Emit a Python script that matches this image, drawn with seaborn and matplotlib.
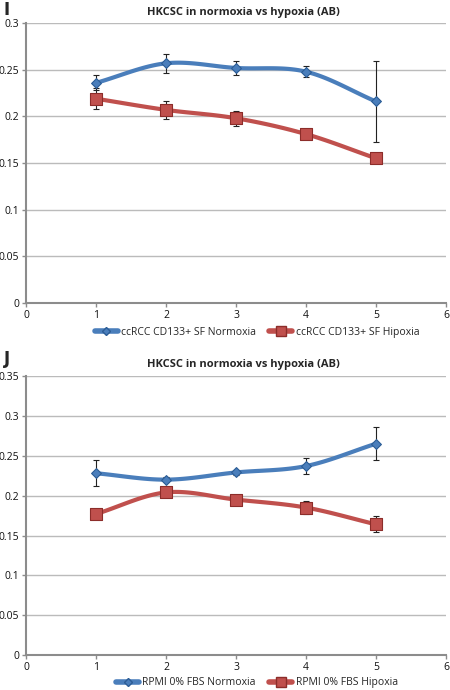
import numpy as np
import pandas as pd
import matplotlib
matplotlib.use("Agg")
import matplotlib.pyplot as plt
import seaborn as sns

sns.set_theme(style="white")
plt.rcParams['font.family'] = ['Open Sans', 'DejaVu Sans']

days = [1, 2, 3, 4, 5]
title = "HKCSC in normoxia vs hypoxia (AB)"

i_norm_label = "ccRCC CD133+ SF Normoxia"
i_hyp_label = "ccRCC CD133+ SF Hipoxia"
i_norm = [0.236, 0.257, 0.252, 0.248, 0.216]
i_norm_err = [0.008, 0.010, 0.008, 0.006, 0.044]
i_hyp = [0.219, 0.207, 0.198, 0.181, 0.155]
i_hyp_err = [0.011, 0.010, 0.008, 0.003, 0.002]

j_norm_label = "RPMI 0% FBS Normoxia"
j_hyp_label = "RPMI 0% FBS Hipoxia"
j_norm = [0.228, 0.220, 0.229, 0.237, 0.265]
j_norm_err = [0.016, 0.003, 0.003, 0.010, 0.021]
j_hyp = [0.177, 0.204, 0.195, 0.185, 0.164]
j_hyp_err = [0.002, 0.004, 0.005, 0.008, 0.010]

BLUE = "#4A7EBB"
BLUE_E = "#2C5D96"
RED = "#C0504D"
RED_E = "#8C2D2A"


def smooth(x, y, n=30):
    # Catmull-Rom spline through data points (Excel-like smoothed line)
    x = np.asarray(x, float); y = np.asarray(y, float)
    px = np.concatenate([[2 * x[0] - x[1]], x, [2 * x[-1] - x[-2]]])
    py = np.concatenate([[2 * y[0] - y[1]], y, [2 * y[-1] - y[-2]]])
    xs, ys = [], []
    t = np.linspace(0, 1, n)
    for i in range(1, len(px) - 2):
        p0, p1, p2, p3 = (np.array([px[k], py[k]]) for k in (i - 1, i, i + 1, i + 2))
        tt = t[:, None]
        pts = 0.5 * ((2 * p1) + (-p0 + p2) * tt + (2 * p0 - 5 * p1 + 4 * p2 - p3) * tt ** 2
                     + (-p0 + 3 * p1 - 3 * p2 + p3) * tt ** 3)
        xs.append(pts[:, 0]); ys.append(pts[:, 1])
    return np.concatenate(xs), np.concatenate(ys)


def panel(ax, norm, norm_err, hyp, hyp_err, lab_n, lab_h, ymax, legy):
    for vals, errs, col, ecol, mk, ms, lab in [
        (norm, norm_err, BLUE, BLUE_E, "D", 5, lab_n),
        (hyp, hyp_err, RED, RED_E, "s", 8, lab_h),
    ]:
        sx, sy = smooth(days, vals)
        ax.plot(sx, sy, color=col, lw=3, zorder=3, solid_capstyle="round")
        ax.errorbar(days, vals, yerr=errs, fmt="none", ecolor="#222222",
                    elinewidth=0.8, capsize=2, capthick=0.8, zorder=4)
        df = pd.DataFrame({"x": days, "y": vals})
        sns.scatterplot(data=df, x="x", y="y", ax=ax, marker=mk, s=ms ** 2,
                        color=col, edgecolor=ecol, linewidth=0.8, zorder=5,
                        legend=False)
        ax.plot([], [], color=col, lw=4, marker=mk, markersize=ms - 1,
                markerfacecolor=col, markeredgecolor=ecol, label=lab,
                solid_capstyle="round")
    ax.set_xlim(0, 6)
    ax.set_ylim(0, ymax)
    ax.set_xticks(range(0, 7))
    yt = np.round(np.arange(0, ymax + 0.001, 0.05), 2)
    ax.set_yticks(yt)
    ax.set_yticklabels([("%g" % v) for v in yt])
    ax.set_xlabel(""); ax.set_ylabel("")
    ax.yaxis.grid(True, color="#BBBBBB", lw=1)
    ax.set_axisbelow(True)
    for s in ["top", "right"]:
        ax.spines[s].set_visible(False)
    for s in ["left", "bottom"]:
        ax.spines[s].set_color("#8C8C8C")
        ax.spines[s].set_linewidth(1.5)
    ax.tick_params(axis="both", labelsize=7.5, colors="#8C8C8C", labelcolor="#111111",
                   length=3, width=1, direction="out", bottom=True, left=True, pad=2)
    ax.legend(loc="center", bbox_to_anchor=(0.55, legy), ncol=2,
              frameon=False, fontsize=7.5, handlelength=2.2, columnspacing=1.3,
              handletextpad=0.3, borderpad=0.1)


fig = plt.figure(figsize=(4.5, 6.9), dpi=100)
ax1 = fig.add_axes([0.058, 0.5613, 0.933, 0.405])
ax2 = fig.add_axes([0.058, 0.0503, 0.933, 0.405])

panel(ax1, i_norm, i_norm_err, i_hyp, i_hyp_err, i_norm_label, i_hyp_label, 0.3, -0.107)
panel(ax2, j_norm, j_norm_err, j_hyp, j_hyp_err, j_norm_label, j_hyp_label, 0.35, -0.098)

fig.text(0.54, 1 - 13 / 690, title, ha="center", va="center", fontsize=8, fontweight="bold")
fig.text(0.54, 1 - 364 / 690, title, ha="center", va="center", fontsize=8, fontweight="bold")
fig.text(0.008, 1 - 10 / 690, "I", ha="left", va="center", fontsize=12, fontweight="bold",
         family="DejaVu Sans")
fig.text(0.008, 1 - 359 / 690, "J", ha="left", va="center", fontsize=12, fontweight="bold",
         family="DejaVu Sans")

fig.savefig("out.png", dpi=100)
